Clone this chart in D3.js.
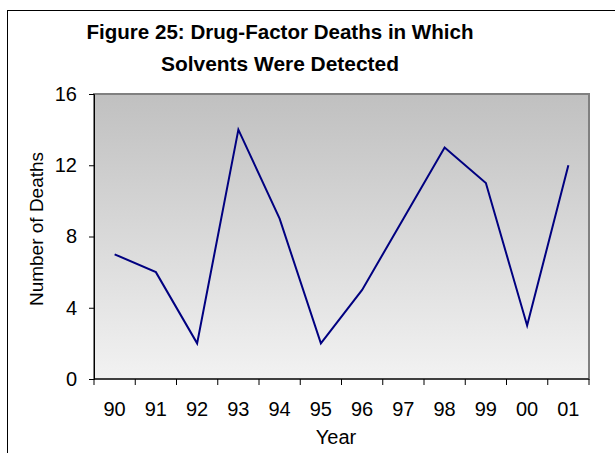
<!DOCTYPE html>
<html><head><meta charset="utf-8">
<script src="https://cdn.jsdelivr.net/npm/d3@7"></script>
<style>body{margin:0;background:#fff}svg{display:block}</style>
</head><body>
<script>
const years = ["90","91","92","93","94","95","96","97","98","99","00","01"];
const deaths = [7,6,2,14,9,2,5,9,13,11,3,12];
const yTicks = [0,4,8,12,16];
const titleLines = ["Figure 25: Drug-Factor Deaths in Which","Solvents Were Detected"];

const W=615,H=453;
const svg=d3.select("body").append("svg").attr("width",W).attr("height",H);
const font="Liberation Sans, Arial, sans-serif";
svg.append("rect").attr("x",7.5).attr("y",10.5).attr("width",W+10).attr("height",H+10)
  .attr("fill","#fff").attr("stroke","#000").attr("stroke-width",1);

const L=94,R=589,T=94,B=379;
const x=d3.scaleBand().domain(years).range([L,R]);
const y=d3.scaleLinear().domain([0,16]).range([B,T]);

const defs=svg.append("defs");
const g=defs.append("linearGradient").attr("id","bg").attr("x1",0).attr("y1",0).attr("x2",0).attr("y2",1);
g.append("stop").attr("offset","0%").attr("stop-color","#c0c0c0");
g.append("stop").attr("offset","100%").attr("stop-color","#f2f2f2");
svg.append("rect").attr("x",L).attr("y",T).attr("width",R-L).attr("height",B-T)
  .attr("fill","url(#bg)").attr("stroke","#808080").attr("stroke-width",2);

const tl=[387,238];
svg.selectAll("text.title").data(titleLines).join("text")
  .attr("x",280).attr("y",(d,i)=>39+i*32).attr("text-anchor","middle")
  .attr("font-family",font).attr("font-weight","bold").attr("font-size",21)
  .attr("textLength",(d,i)=>tl[i]).attr("lengthAdjust","spacingAndGlyphs").text(d=>d);

const ya=svg.append("g").attr("transform",`translate(${L},0)`)
  .call(d3.axisLeft(y).tickValues(yTicks).tickSize(5).tickPadding(12));
ya.select(".domain").attr("stroke","#000").attr("stroke-width",1);
ya.selectAll("text").attr("font-family",font).attr("font-size",20).attr("fill","#000");

const xa=svg.append("g").attr("transform",`translate(0,${B})`)
  .call(d3.axisBottom(x).tickSize(0).tickPadding(23));
xa.select(".domain").attr("stroke","#000").attr("d",`M${L},0H${R}`);
xa.selectAll("text").attr("font-family",font).attr("font-size",20).attr("fill","#000");
const bounds=years.map(d=>x(d)).concat([R]);
xa.selectAll("line.tk").data(bounds).join("line").attr("class","tk")
  .attr("x1",d=>d).attr("x2",d=>d).attr("y1",0).attr("y2",6).attr("stroke","#000");

svg.append("text").attr("x",336).attr("y",444).attr("text-anchor","middle")
  .attr("font-family",font).attr("font-size",20).text("Year");
svg.append("text").attr("transform","translate(43,229) rotate(-90)").attr("text-anchor","middle")
  .attr("font-family",font).attr("font-size",19).text("Number of Deaths");

const line=d3.line().x((d,i)=>x(years[i])+x.bandwidth()/2).y(d=>y(d));
svg.append("path").datum(deaths).attr("d",line).attr("fill","none")
  .attr("stroke","#000080").attr("stroke-width",2);
</script>
</body></html>
